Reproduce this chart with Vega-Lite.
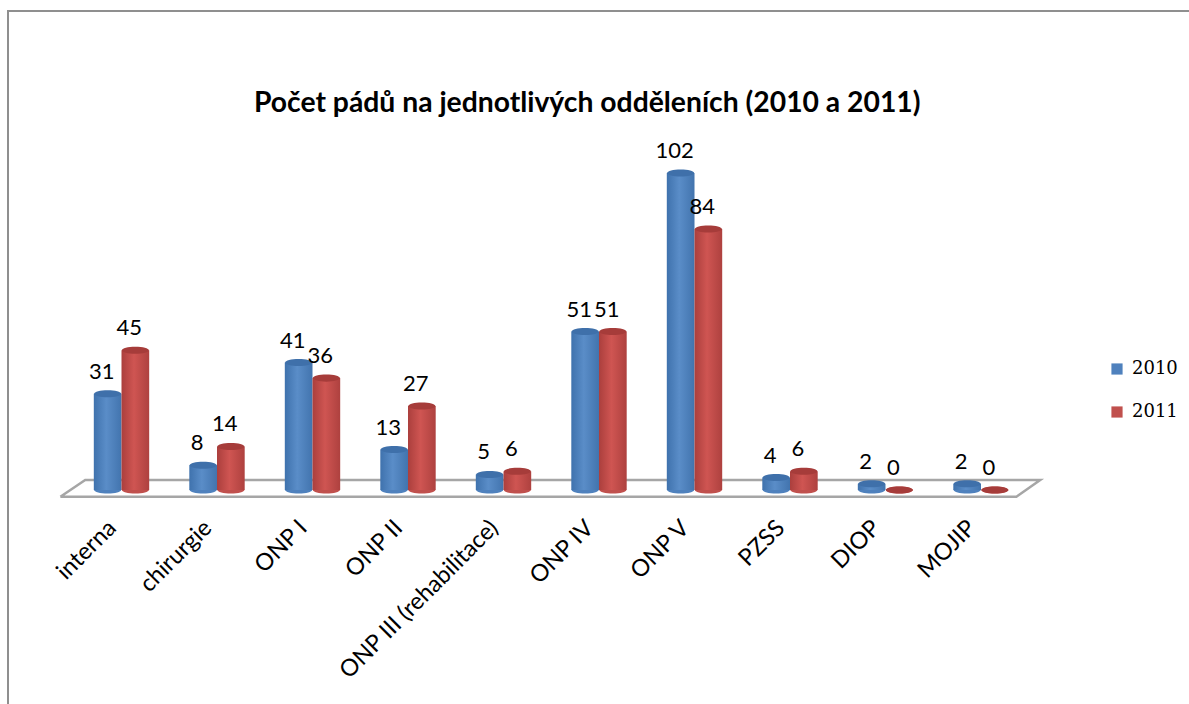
{
"$schema":"https://vega.github.io/schema/vega-lite/v6.json",
"autosize":"none",
"padding":{"left":8,"top":11,"right":0,"bottom":0},
"width":1300,"height":800,
"background":"white",
"config":{"view":{"stroke":"#8f8f8f","strokeWidth":2}},
"title":{"text":"Počet pádů na jednotlivých odděleních (2010 a 2011)","anchor":"start","frame":"group","dx":246,"offset":-107,"font":"Lato","fontSize":28.3,"fontWeight":"bold","color":"#000000"},
"datasets":{
"bars":[
{"oddeleni":"interna","rok":"2010","pocet":31},{"oddeleni":"interna","rok":"2011","pocet":45},
{"oddeleni":"chirurgie","rok":"2010","pocet":8},{"oddeleni":"chirurgie","rok":"2011","pocet":14},
{"oddeleni":"ONP I","rok":"2010","pocet":41},{"oddeleni":"ONP I","rok":"2011","pocet":36},
{"oddeleni":"ONP II","rok":"2010","pocet":13},{"oddeleni":"ONP II","rok":"2011","pocet":27},
{"oddeleni":"ONP III (rehabilitace)","rok":"2010","pocet":5},{"oddeleni":"ONP III (rehabilitace)","rok":"2011","pocet":6},
{"oddeleni":"ONP IV","rok":"2010","pocet":51},{"oddeleni":"ONP IV","rok":"2011","pocet":51},
{"oddeleni":"ONP V","rok":"2010","pocet":102},{"oddeleni":"ONP V","rok":"2011","pocet":84},
{"oddeleni":"PZSS","rok":"2010","pocet":4},{"oddeleni":"PZSS","rok":"2011","pocet":6},
{"oddeleni":"DIOP","rok":"2010","pocet":2},{"oddeleni":"DIOP","rok":"2011","pocet":0},
{"oddeleni":"MOJIP","rok":"2010","pocet":2},{"oddeleni":"MOJIP","rok":"2011","pocet":0}
],
"floor":[
{"u":-0.14,"v":-2.2,"k":1},{"u":0.12,"v":3.2,"k":2},{"u":10.12,"v":3.2,"k":3},{"u":9.87,"v":-2.2,"k":4},{"u":-0.14,"v":-2.2,"k":5}
]},
"resolve":{"scale":{"x":"independent"}},
"layer":[
{"data":{"name":"floor"},
 "mark":{"type":"line","color":"#a6a6a6","strokeWidth":2.5},
 "encoding":{
  "x":{"field":"u","type":"quantitative","axis":null,"scale":{"domain":[0,10],"range":[65.75,1020.75],"nice":false,"zero":false}},
  "y":{"field":"v","type":"quantitative","axis":null,"scale":{"domain":[0,102],"range":[479,162],"nice":false}},
  "order":{"field":"k"}}},
{"data":{"name":"bars"},
 "encoding":{
  "x":{"field":"oddeleni","type":"nominal","sort":null,
   "scale":{"range":[65.75,1020.75],"paddingInner":0.42,"paddingOuter":0.21},
   "axis":{"title":null,"labelAngle":-45,"labelAlign":"right","labelBaseline":"middle","ticks":false,"domain":false,"grid":false,"offset":-311,"labelPadding":24,"labelOffset":-9,"labelFont":"Lato","labelFontSize":23.5,"labelColor":"#000000","labelOverlap":false,"labelLimit":400}},
  "xOffset":{"field":"rok","type":"nominal","scale":{"domain":["2010","2011"]}},
  "y":{"field":"pocet","type":"quantitative","axis":null,"scale":{"domain":[0,102],"range":[479,162],"nice":false}}},
 "layer":[
  {"mark":{"type":"point","filled":true,"opacity":1,"shape":"M-1,0 A1,0.26 0 1 0 1,0 A1,0.26 0 1 0 -1,0 Z","size":729},
   "encoding":{"y":{"datum":0,"type":"quantitative"},
    "color":{"field":"rok","type":"nominal","scale":{"domain":["2010","2011"],"range":["#4f81bd","#c0504d"]},
     "legend":{"title":null,"orient":"none","legendX":1100,"legendY":349,"symbolType":"square","symbolSize":125,"labelFont":"DejaVu Serif","labelFontSize":18,"labelColor":"#000000","rowPadding":25,"labelOffset":6}}}},
  {"transform":[{"filter":"datum.rok=='2010'"}],
   "mark":{"type":"bar","color":{"x1":0,"y1":0,"x2":1,"y2":0,"gradient":"linear","stops":[{"offset":0,"color":"#3f72ad"},{"offset":0.45,"color":"#5a8dc8"},{"offset":1,"color":"#4274ae"}]}},
   "encoding":{"y2":{"datum":0}}},
  {"transform":[{"filter":"datum.rok=='2010'"}],
   "mark":{"type":"point","filled":true,"opacity":1,"color":"#3f70aa","shape":"M-1,0 A1,0.26 0 1 0 1,0 A1,0.26 0 1 0 -1,0 Z","size":729}},
  {"transform":[{"filter":"datum.rok=='2011'"}],
   "mark":{"type":"bar","color":{"x1":0,"y1":0,"x2":1,"y2":0,"gradient":"linear","stops":[{"offset":0,"color":"#ab3f3d"},{"offset":0.45,"color":"#cf5552"},{"offset":1,"color":"#ae413f"}]}},
   "encoding":{"y2":{"datum":0}}},
  {"transform":[{"filter":"datum.rok=='2011'"}],
   "mark":{"type":"point","filled":true,"opacity":1,"color":"#a63c3a","shape":"M-1,0 A1,0.26 0 1 0 1,0 A1,0.26 0 1 0 -1,0 Z","size":729}},
  {"mark":{"type":"text","font":"Lato","fontSize":22,"color":"#000000","dx":-6,"dy":-22,"baseline":"middle"},
   "encoding":{"text":{"field":"pocet","type":"quantitative"}}}
 ]}
]
}
